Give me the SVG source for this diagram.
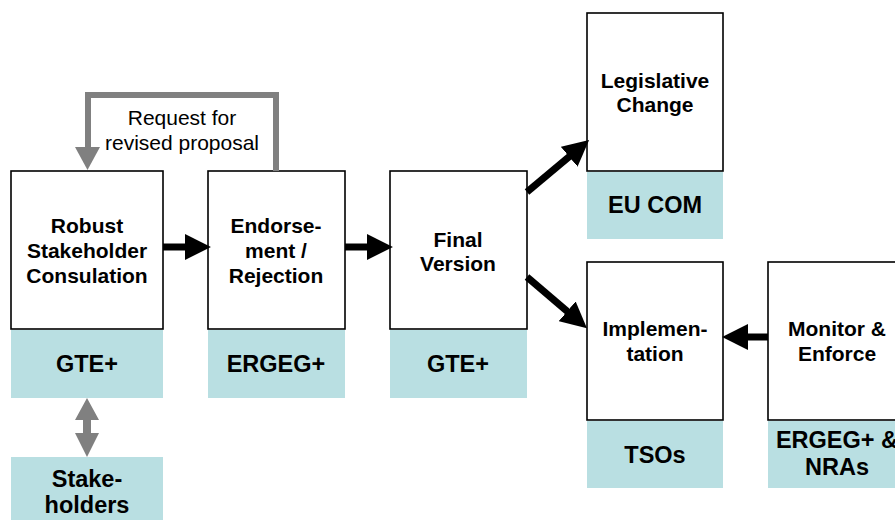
<svg xmlns="http://www.w3.org/2000/svg" width="895" height="520" viewBox="0 0 895 520">
<style>
.box{fill:#fff;stroke:#000;stroke-width:1.6}
.tag{fill:#B9DFE2}
.t{font-family:"Liberation Sans",Arial,sans-serif;font-size:21px;font-weight:bold;text-anchor:middle;fill:#000}
.g{font-family:"Liberation Sans",Arial,sans-serif;font-size:23.5px;font-weight:bold;text-anchor:middle;fill:#000}
.n{font-family:"Liberation Sans",Arial,sans-serif;font-size:21px;text-anchor:middle;fill:#000}
.blk{stroke:#000;stroke-width:7;fill:none;marker-end:url(#ah)}
</style>
<defs>
<marker id="ah" markerUnits="userSpaceOnUse" markerWidth="26" markerHeight="26" viewBox="0 0 24 24" refX="1" refY="12" orient="auto">
<path d="M0,0 L24,12 L0,24 z" fill="#000"/>
</marker>
</defs>
<rect width="895" height="520" fill="#fff"/>
<g id="consultation">
<rect class="box" x="11" y="171" width="152" height="158"/>
<rect class="tag" x="11" y="330" width="152" height="68"/>
<text class="t" x="87" y="233">Robust</text>
<text class="t" x="87" y="258">Stakeholder</text>
<text class="t" x="87" y="283">Consulation</text>
<text class="g" x="87" y="372">GTE+</text>
</g>
<g id="stakeholders">
<rect class="tag" x="11" y="457" width="152" height="70"/>
<text class="g" x="87" y="487">Stake-</text>
<text class="g" x="87" y="513">holders</text>
</g>
<g id="endorsement">
<rect class="box" x="208" y="171" width="137" height="158"/>
<rect class="tag" x="208" y="330" width="137" height="68"/>
<text class="t" x="276" y="233">Endorse-</text>
<text class="t" x="276" y="258">ment /</text>
<text class="t" x="276" y="283">Rejection</text>
<text class="g" x="276" y="372">ERGEG+</text>
</g>
<g id="final">
<rect class="box" x="390" y="171" width="137" height="158"/>
<rect class="tag" x="390" y="330" width="137" height="68"/>
<text class="t" x="458" y="247">Final</text>
<text class="t" x="458" y="271">Version</text>
<text class="g" x="458" y="372">GTE+</text>
</g>
<g id="legislative">
<rect class="box" x="587" y="13" width="136" height="158"/>
<rect class="tag" x="587" y="172" width="136" height="67"/>
<text class="t" x="655" y="88">Legislative</text>
<text class="t" x="655" y="112">Change</text>
<text class="g" x="655" y="213">EU COM</text>
</g>
<g id="implementation">
<rect class="box" x="587" y="262" width="136" height="158"/>
<rect class="tag" x="587" y="421" width="136" height="67"/>
<text class="t" x="655" y="336">Implemen-</text>
<text class="t" x="655" y="361">tation</text>
<text class="g" x="655" y="463">TSOs</text>
</g>
<g id="monitor">
<rect class="box" x="768" y="262" width="140" height="158"/>
<rect class="tag" x="768" y="421" width="140" height="67"/>
<text class="t" x="837" y="336">Monitor &amp;</text>
<text class="t" x="837" y="361">Enforce</text>
<text class="g" x="837" y="448">ERGEG+ &amp;</text>
<text class="g" x="837" y="475">NRAs</text>
</g>
<g id="connectors">
<polyline points="276,171 276,95 88,95 88,149" fill="none" stroke="#808080" stroke-width="6"/>
<polygon points="75,147 100,147 87.5,170" fill="#808080"/>
<text class="n" x="182" y="125">Request for</text>
<text class="n" x="182" y="150">revised proposal</text>
<polygon points="87,398 99,420 91,420 91,433 99,433 87,457 75,433 83,433 83,420 75,420" fill="#808080"/>
<line class="blk" x1="163" y1="247" x2="186" y2="247"/>
<line class="blk" x1="345" y1="247" x2="368" y2="247"/>
<line class="blk" x1="527" y1="192" x2="570" y2="156"/>
<line class="blk" x1="527" y1="277" x2="568" y2="312"/>
<line class="blk" x1="768" y1="337" x2="747" y2="337"/>
</g>
</svg>
